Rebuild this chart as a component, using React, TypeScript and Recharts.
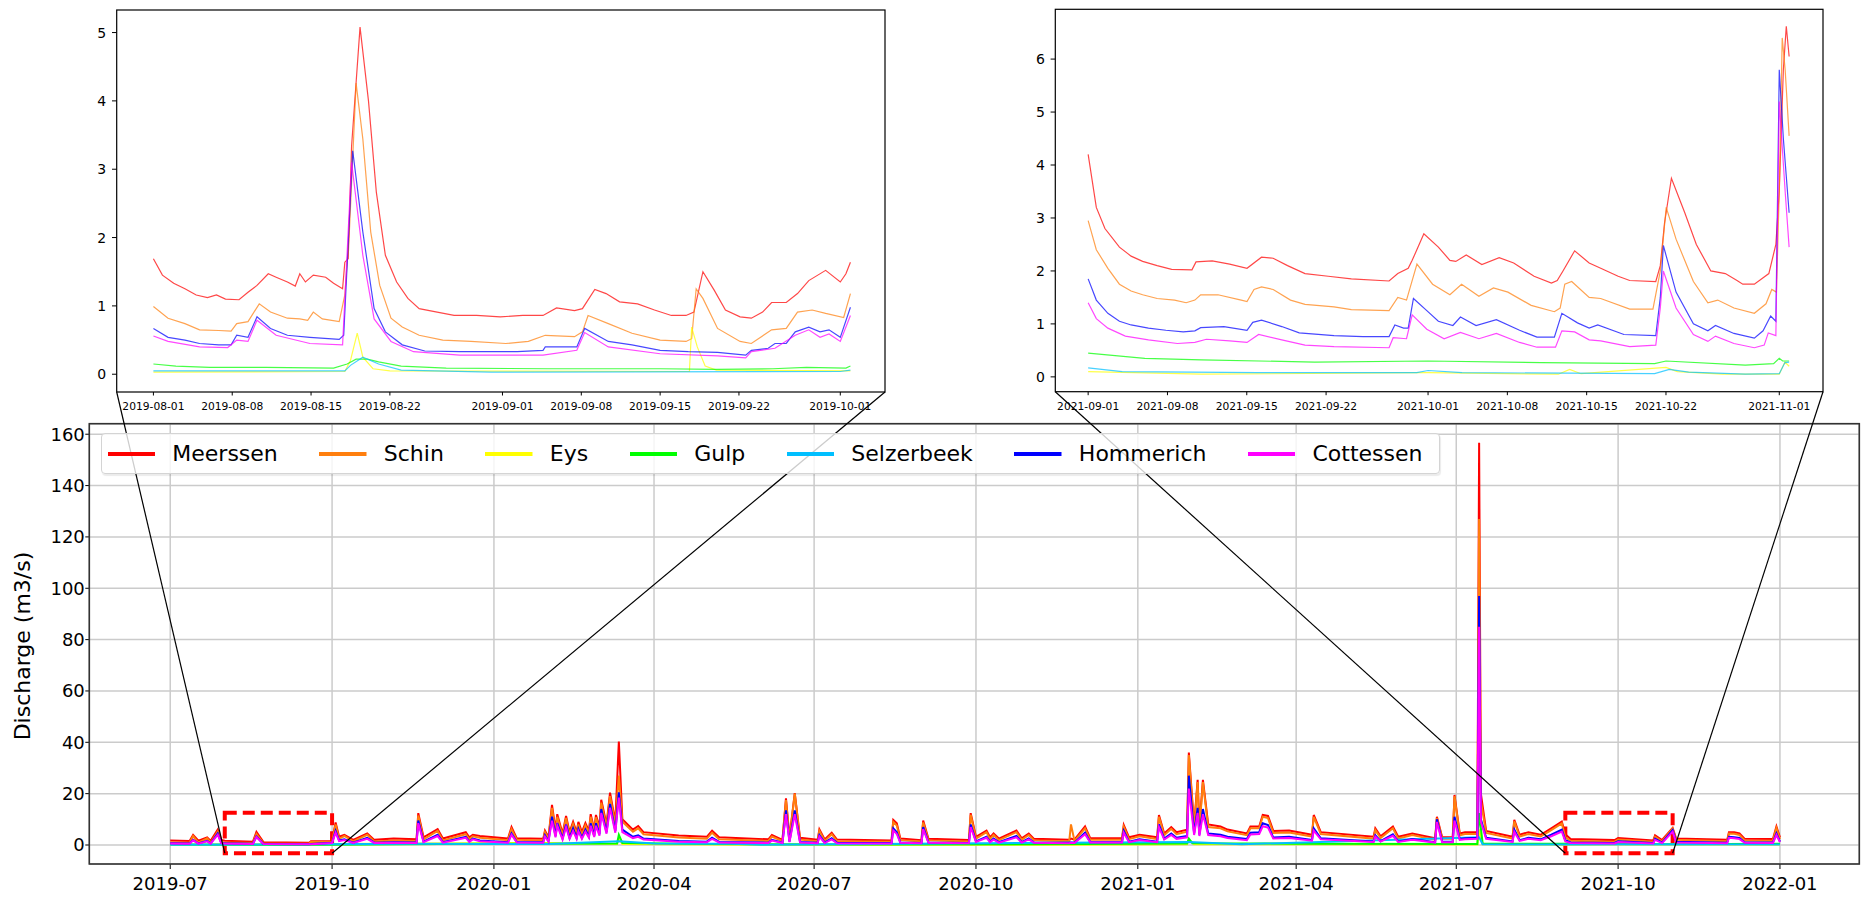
import { CartesianGrid, Line, LineChart, ReferenceArea, XAxis, YAxis } from "recharts";

const DAY = 86400000;
const FONT = "DejaVu Sans";
const ts = (s: string) => Date.parse(s + "T00:00:00Z");

const STATIONS = ["Meerssen", "Schin", "Eys", "Gulp", "Selzerbeek", "Hommerich", "Cottessen"];
const COLORS = ["#ff0000", "#ff7f0e", "#ffff00", "#00ff00", "#00bfff", "#0000ff", "#ff00ff"];

// ---- main chart (daily-ish samples) ----
const mainDates = [
  "2019-07-01", "2019-07-12", "2019-07-14", "2019-07-17", "2019-07-22", "2019-07-24", "2019-07-28", "2019-07-30", "2019-08-01", "2019-08-17",
  "2019-08-19", "2019-08-23", "2019-09-18", "2019-09-19", "2019-10-01", "2019-10-03", "2019-10-05", "2019-10-08", "2019-10-13", "2019-10-21",
  "2019-10-25", "2019-11-05", "2019-11-18", "2019-11-19", "2019-11-22", "2019-11-30", "2019-12-03", "2019-12-16", "2019-12-18", "2019-12-20",
  "2019-12-24", "2020-01-09", "2020-01-11", "2020-01-14", "2020-01-29", "2020-01-30", "2020-02-01", "2020-02-03", "2020-02-05", "2020-02-06",
  "2020-02-09", "2020-02-11", "2020-02-13", "2020-02-15", "2020-02-17", "2020-02-18", "2020-02-20", "2020-02-22", "2020-02-24", "2020-02-25",
  "2020-02-27", "2020-02-28", "2020-03-01", "2020-03-02", "2020-03-05", "2020-03-07", "2020-03-10", "2020-03-12", "2020-03-14", "2020-03-20",
  "2020-03-23", "2020-03-26", "2020-04-15", "2020-05-01", "2020-05-04", "2020-05-08", "2020-06-05", "2020-06-07", "2020-06-13", "2020-06-15",
  "2020-06-17", "2020-06-20", "2020-06-23", "2020-07-03", "2020-07-04", "2020-07-07", "2020-07-11", "2020-07-14", "2020-08-14", "2020-08-15",
  "2020-08-17", "2020-08-19", "2020-08-31", "2020-09-01", "2020-09-04", "2020-09-27", "2020-09-28", "2020-10-01", "2020-10-07", "2020-10-09",
  "2020-10-11", "2020-10-14", "2020-10-24", "2020-10-27", "2020-10-31", "2020-11-03", "2020-11-23", "2020-11-24", "2020-11-26", "2020-12-02",
  "2020-12-05", "2020-12-23", "2020-12-24", "2020-12-27", "2021-01-02", "2021-01-12", "2021-01-13", "2021-01-16", "2021-01-20", "2021-01-23",
  "2021-01-29", "2021-01-30", "2021-02-02", "2021-02-04", "2021-02-05", "2021-02-07", "2021-02-10", "2021-02-17", "2021-02-21", "2021-03-04",
  "2021-03-06", "2021-03-11", "2021-03-13", "2021-03-16", "2021-03-19", "2021-03-28", "2021-04-10", "2021-04-11", "2021-04-15", "2021-05-15",
  "2021-05-16", "2021-05-19", "2021-05-26", "2021-05-29", "2021-06-06", "2021-06-19", "2021-06-20", "2021-06-23", "2021-06-29", "2021-06-30",
  "2021-07-03", "2021-07-06", "2021-07-13", "2021-07-14", "2021-07-15", "2021-07-18", "2021-08-02", "2021-08-03", "2021-08-06", "2021-08-11",
  "2021-08-18", "2021-08-24", "2021-08-30", "2021-09-01", "2021-09-04", "2021-09-29", "2021-10-01", "2021-10-21", "2021-10-22", "2021-10-26", "2021-11-01", "2021-11-03",
  "2021-12-02", "2021-12-03", "2021-12-06", "2021-12-09", "2021-12-12", "2021-12-28", "2021-12-30", "2022-01-01",
];

const mainMeerssen = [
  1.8, 1.6, 3.9, 1.7, 3.0, 1.6, 6.0, 2.0, 1.7, 1.3,
  5.1, 1.1, 0.9, 1.5, 1.6, 8.8, 3.2, 4.0, 2.0, 4.5,
  2.0, 2.5, 2.2, 12.4, 3.0, 6.2, 2.5, 5.0, 3.0, 4.0,
  3.5, 2.5, 7.0, 2.6, 2.4, 5.6, 3.0, 15.6, 6.0, 12.0,
  4.5, 11.3, 5.0, 9.0, 5.0, 9.0, 5.0, 8.5, 5.5, 12.0,
  6.0, 11.7, 7.0, 17.6, 8.0, 20.4, 9.0, 40.3, 10.0, 6.0,
  7.4, 5.0, 3.7, 3.2, 5.6, 3.0, 2.2, 3.9, 2.0, 18.2,
  3.0, 20.2, 2.8, 2.0, 6.1, 2.2, 4.8, 2.1, 1.8, 9.8,
  8.5, 2.5, 1.9, 9.5, 2.4, 1.9, 12.4, 3.2, 5.6, 3.0,
  4.5, 2.5, 5.6, 2.6, 4.5, 2.4, 2.0, 2.5, 2.1, 7.2,
  2.6, 2.6, 7.8, 3.0, 4.0, 3.0, 11.7, 4.5, 7.0, 5.0,
  6.0, 36.0, 7.5, 25.4, 7.0, 25.4, 8.0, 7.2, 6.0, 4.5,
  7.2, 7.2, 11.7, 11.3, 5.5, 5.6, 4.0, 11.7, 5.0, 3.2,
  6.5, 3.4, 7.2, 3.2, 4.5, 2.6, 11.0, 3.0, 3.0, 19.5,
  4.5, 5.0, 5.0, 156.7, 20.0, 5.5, 3.2, 9.8, 4.0, 5.0,
  4.0, 6.5, 9.1, 4.2, 2.3, 1.9, 2.7, 1.8, 3.75, 1.95, 6.6, 2.5,
  2.0, 5.0, 5.0, 4.5, 2.4, 2.3, 7.2, 3.0,
];

const mainSchin = [
  1.0, 0.9, 3.5, 0.9, 2.6, 0.9, 5.2, 1.2, 1.0, 0.8,
  4.3, 0.6, 0.5, 1.25, 1.1, 8.0, 2.4, 3.5, 1.4, 4.0,
  1.4, 1.8, 1.6, 11.5, 2.2, 5.5, 1.8, 4.2, 2.2, 3.4,
  2.8, 1.9, 6.2, 2.0, 1.8, 5.0, 2.4, 14.5, 5.0, 11.0,
  3.6, 10.5, 4.0, 8.2, 4.0, 8.0, 4.0, 7.6, 4.5, 11.0,
  5.0, 10.8, 6.0, 16.5, 7.0, 19.0, 8.0, 27.0, 9.0, 5.2,
  6.5, 4.2, 2.9, 2.4, 4.8, 2.2, 1.6, 3.3, 1.5, 17.5,
  2.3, 20.0, 2.1, 1.5, 5.5, 1.6, 4.2, 1.5, 1.3, 9.0,
  7.6, 1.9, 1.4, 8.8, 1.8, 1.4, 11.8, 2.5, 5.0, 2.3,
  3.9, 1.9, 5.0, 2.0, 3.9, 1.8, 1.5, 8.0, 1.6, 6.5,
  2.0, 2.0, 7.0, 2.3, 3.4, 2.3, 11.0, 3.8, 6.3, 4.2,
  5.2, 35.0, 6.5, 24.5, 6.0, 24.5, 7.0, 6.5, 5.3, 3.8,
  6.5, 6.5, 11.0, 10.5, 4.7, 4.9, 3.3, 11.0, 4.3, 2.5,
  5.8, 2.7, 6.5, 2.5, 3.9, 2.0, 10.5, 2.4, 2.4, 19.0,
  3.8, 4.3, 4.3, 127.0, 17.0, 4.7, 2.5, 9.2, 3.3, 4.3,
  3.3, 5.8, 8.4, 2.95, 1.65, 1.3, 2.1, 1.28, 3.2, 1.45, 6.4, 2.0,
  1.5, 4.5, 4.4, 3.9, 1.8, 1.7, 6.6, 2.3,
];

const mainHommerich = [
  0.7, 0.6, 2.0, 0.6, 1.6, 0.6, 4.5, 0.8, 0.67, 0.5,
  3.3, 0.4, 0.32, 0.35, 0.9, 5.5, 1.8, 2.2, 0.9, 2.8,
  0.9, 1.1, 1.0, 9.5, 1.3, 4.0, 1.1, 3.2, 1.4, 2.5,
  1.8, 1.1, 4.5, 1.2, 1.1, 3.8, 1.5, 11.0, 3.5, 8.5,
  2.5, 8.0, 2.8, 6.5, 2.8, 6.2, 2.8, 6.0, 3.2, 8.5,
  3.6, 8.5, 4.2, 14.0, 5.0, 16.0, 5.5, 20.5, 6.0, 3.2,
  3.8, 2.5, 1.6, 1.3, 2.8, 1.2, 0.9, 2.0, 0.85, 13.5,
  1.3, 13.5, 1.2, 0.85, 3.8, 0.9, 2.6, 0.85, 0.75, 6.5,
  5.0, 1.0, 0.8, 7.0, 1.0, 0.8, 8.0, 1.4, 3.2, 1.3,
  2.5, 1.1, 3.5, 1.1, 2.6, 1.0, 0.85, 1.0, 0.9, 4.8,
  1.1, 1.1, 5.5, 1.3, 2.2, 1.3, 8.0, 2.5, 4.5, 2.8,
  3.5, 27.0, 4.5, 14.5, 4.0, 14.0, 4.5, 4.0, 3.2, 2.3,
  4.8, 5.0, 8.5, 7.8, 2.9, 3.2, 2.0, 6.5, 2.6, 1.4,
  3.8, 1.5, 4.2, 1.4, 2.3, 1.1, 10.0, 1.3, 1.3, 11.0,
  2.3, 2.6, 2.8, 97.0, 10.0, 2.8, 1.4, 6.0, 1.9, 2.8,
  2.2, 4.0, 6.0, 1.85, 1.0, 0.8, 1.45, 0.78, 2.48, 0.95, 5.8, 1.3,
  0.85, 3.2, 3.0, 2.7, 1.0, 0.95, 4.5, 1.3,
];

const mainCottessen = [
  0.6, 0.5, 1.8, 0.5, 1.4, 0.5, 4.0, 0.7, 0.56, 0.43,
  3.1, 0.35, 0.27, 0.3, 0.8, 4.8, 1.5, 1.9, 0.8, 2.4,
  0.8, 0.9, 0.8, 8.5, 1.1, 3.5, 0.9, 2.8, 1.2, 2.2,
  1.5, 0.9, 4.0, 1.0, 0.9, 3.3, 1.3, 9.5, 3.0, 7.5,
  2.1, 7.0, 2.4, 5.5, 2.4, 5.4, 2.4, 5.2, 2.8, 7.5,
  3.1, 7.5, 3.6, 12.5, 4.4, 14.5, 4.8, 18.5, 5.0, 2.7,
  3.2, 2.1, 1.3, 1.1, 2.4, 1.0, 0.8, 1.7, 0.75, 12.0,
  1.1, 12.0, 1.0, 0.7, 3.3, 0.75, 2.2, 0.7, 0.6, 5.7,
  4.3, 0.85, 0.65, 6.2, 0.85, 0.65, 7.0, 1.2, 2.8, 1.1,
  2.1, 0.9, 3.0, 0.95, 2.2, 0.85, 0.7, 0.85, 0.75, 4.2,
  0.95, 0.95, 4.8, 1.1, 1.9, 1.1, 7.0, 2.1, 3.9, 2.4,
  3.0, 22.0, 3.9, 12.5, 3.5, 12.0, 3.9, 3.4, 2.7, 1.9,
  4.1, 4.3, 7.3, 6.8, 2.5, 2.7, 1.7, 5.6, 2.2, 1.2,
  3.3, 1.3, 3.6, 1.2, 2.0, 0.95, 9.0, 1.1, 1.1, 9.5,
  2.0, 2.2, 2.4, 85.0, 9.0, 2.4, 1.2, 5.2, 1.6, 2.4,
  1.9, 3.4, 5.2, 1.4, 0.75, 0.6, 1.15, 0.6, 2.0, 0.75, 5.2, 1.0,
  0.7, 2.8, 2.6, 2.3, 0.85, 0.8, 3.9, 1.1,
];

// the small stations barely leave the baseline, fewer samples
const mainEys: [string, number][] = [
  ["2019-07-01", 0.05], ["2019-11-19", 0.6], ["2020-02-03", 0.8], ["2020-03-11", 0.4], ["2020-03-12", 2.5],
  ["2020-03-14", 0.4], ["2020-06-01", 0.08], ["2020-11-24", 0.1], ["2021-01-29", 0.3], ["2021-01-30", 2.0],
  ["2021-02-02", 0.3], ["2021-07-13", 0.2], ["2021-07-14", 6.0], ["2021-07-16", 0.3], ["2021-09-01", 0.1],
  ["2021-11-01", 0.25], ["2022-01-01", 0.1],
];
const mainGulp: [string, number][] = [
  ["2019-07-01", 0.15], ["2019-10-01", 0.12], ["2019-12-01", 0.35], ["2020-02-01", 0.5], ["2020-03-11", 0.6],
  ["2020-03-12", 4.0], ["2020-03-14", 0.8], ["2020-05-01", 0.4], ["2020-08-01", 0.2], ["2020-11-01", 0.25],
  ["2021-01-29", 0.6], ["2021-01-30", 2.5], ["2021-02-01", 0.7], ["2021-04-01", 0.5], ["2021-07-13", 0.4],
  ["2021-07-14", 12.4], ["2021-07-16", 0.6], ["2021-09-01", 0.45], ["2021-11-01", 0.3], ["2022-01-01", 0.45],
];
const mainSelzerbeek: [string, number][] = [
  ["2019-07-01", 0.06], ["2019-11-19", 0.5], ["2020-02-01", 0.4], ["2020-03-12", 1.5], ["2020-04-01", 0.6],
  ["2020-05-15", 0.5], ["2020-06-01", 0.1], ["2021-01-30", 1.2], ["2021-03-01", 0.3], ["2021-07-14", 3.0],
  ["2021-07-16", 0.3], ["2021-09-01", 0.17], ["2021-11-01", 0.28], ["2022-01-01", 0.2],
];

const mainTicks = ["2019-07", "2019-10", "2020-01", "2020-04", "2020-07", "2020-10", "2021-01", "2021-04", "2021-07", "2021-10", "2022-01"];
const mainYTicks = [0, 20, 40, 60, 80, 100, 120, 140, 160];

// ---- inset 1: Aug - Sep 2019, [day since start, value] ----
const inset1Start = "2019-08-01";
const inset1Ticks = ["2019-08-01", "2019-08-08", "2019-08-15", "2019-08-22", "2019-09-01", "2019-09-08", "2019-09-15", "2019-09-22", "2019-10-01"];
const inset1YTicks = [0, 1, 2, 3, 4, 5];
const in1Meerssen = [
  [0, 1.69], [0.8, 1.45], [1.8, 1.33], [2.8, 1.25], [3.8, 1.16], [4.8, 1.12], [5.6, 1.16], [6.4, 1.1], [7.6, 1.09], [8.4, 1.2],
  [9.2, 1.3], [10.2, 1.47], [10.9, 1.42], [11.9, 1.35], [12.6, 1.29], [13, 1.47], [13.5, 1.35], [14.2, 1.45], [15.3, 1.42], [16, 1.33],
  [16.8, 1.25], [17, 1.64], [17.3, 1.69], [17.6, 3.34], [18.35, 5.08], [19.1, 4.0], [19.8, 2.66], [20.6, 1.74], [21.6, 1.35], [22.6, 1.11],
  [23.6, 0.96], [25.2, 0.91], [26.7, 0.86], [28.7, 0.86], [30.8, 0.84], [32.8, 0.86], [34.6, 0.86], [35.8, 0.97], [37.4, 0.93], [38.1, 0.96],
  [39.2, 1.24], [40.2, 1.18], [41.4, 1.06], [43, 1.03], [44.5, 0.94], [46, 0.86], [47.3, 0.86], [48, 0.91], [48.8, 1.5], [49.8, 1.23],
  [50.8, 0.94], [52.1, 0.84], [53.1, 0.82], [54.1, 0.91], [54.9, 1.05], [56.2, 1.05], [57.2, 1.18], [58.2, 1.37], [59.7, 1.52], [61, 1.35],
  [61.5, 1.47], [61.9, 1.64],
];
const in1Schin = [
  [0, 0.99], [1.3, 0.82], [2.8, 0.74], [4.1, 0.65], [5.8, 0.64], [6.9, 0.63], [7.4, 0.74], [8.4, 0.77], [9.4, 1.03], [10.4, 0.91],
  [11.9, 0.82], [13, 0.81], [13.7, 0.79], [14.2, 0.91], [15, 0.81], [16.5, 0.77], [17, 1.16], [17.4, 2.08], [18, 4.26], [18.6, 3.44],
  [19.3, 2.08], [20.1, 1.3], [21.1, 0.82], [22.1, 0.69], [23.6, 0.57], [25.7, 0.5], [28.2, 0.48], [31.3, 0.45], [33.3, 0.48], [34.8, 0.57],
  [37.4, 0.55], [38.1, 0.62], [38.6, 0.86], [40.4, 0.74], [42.5, 0.6], [45, 0.5], [47.3, 0.48], [47.8, 0.52], [48.2, 1.25], [48.8, 1.11],
  [50.1, 0.67], [52.1, 0.48], [53.1, 0.45], [54.9, 0.65], [56.2, 0.67], [57.2, 0.91], [58.5, 0.94], [59.7, 0.89], [61.3, 0.83], [61.9, 1.18],
];
const in1Eys = [
  [0, 0.03], [17, 0.04], [17.5, 0.2], [18.1, 0.6], [18.6, 0.25], [19.5, 0.08], [21, 0.05], [47.6, 0.04], [47.8, 0.69], [48.3, 0.4],
  [49, 0.12], [50, 0.06], [61.9, 0.05],
];
const in1Gulp = [
  [0, 0.15], [2, 0.12], [5, 0.1], [10, 0.1], [16, 0.09], [17.2, 0.15], [18, 0.22], [19, 0.22], [20, 0.18], [22, 0.12],
  [26, 0.09], [35, 0.08], [45, 0.08], [50, 0.07], [55, 0.08], [58, 0.1], [61.5, 0.09], [61.9, 0.12],
];
const in1Selzerbeek = [
  [0, 0.05], [10, 0.05], [17, 0.05], [17.5, 0.13], [18.6, 0.25], [20, 0.15], [22, 0.06], [30, 0.03], [61, 0.04], [61.9, 0.06],
];
const in1Hommerich = [
  [0, 0.67], [1.3, 0.54], [2.8, 0.5], [4.1, 0.45], [5.8, 0.43], [6.9, 0.43], [7.4, 0.57], [8.4, 0.54], [9.2, 0.84], [10.4, 0.67],
  [11.9, 0.57], [13.9, 0.54], [16.5, 0.51], [16.9, 0.57], [17.7, 3.27], [18.6, 2.08], [19.6, 0.96], [20.6, 0.62], [22.1, 0.43], [24.1, 0.34],
  [27.2, 0.33], [32.3, 0.33], [34.6, 0.35], [34.8, 0.4], [37.6, 0.4], [38.3, 0.67], [40.4, 0.48], [42.5, 0.43], [45, 0.35], [47.5, 0.33],
  [50.1, 0.32], [52.6, 0.28], [53.1, 0.35], [54.6, 0.38], [55.2, 0.45], [56.2, 0.45], [57, 0.62], [58.2, 0.69], [59.2, 0.62], [60, 0.65],
  [61, 0.54], [61.9, 0.98],
];
const in1Cottessen = [
  [0, 0.56], [1.3, 0.48], [4.1, 0.4], [6.6, 0.39], [7.4, 0.5], [8.4, 0.48], [9.2, 0.79], [10.9, 0.57], [13.9, 0.45], [16.8, 0.43],
  [17.6, 3.1], [18.6, 1.74], [19.6, 0.81], [21.1, 0.48], [23.1, 0.33], [27.2, 0.28], [34.6, 0.28], [37.6, 0.35], [38.3, 0.61], [40.4, 0.4],
  [45, 0.3], [50.1, 0.27], [52.6, 0.24], [53.1, 0.33], [55.2, 0.38], [57, 0.57], [58.2, 0.65], [59.2, 0.54], [60, 0.59], [61, 0.48],
  [61.9, 0.86],
];

// ---- inset 2: Sep - Oct 2021 ----
const inset2Start = "2021-09-01";
const inset2Ticks = ["2021-09-01", "2021-09-08", "2021-09-15", "2021-09-22", "2021-10-01", "2021-10-08", "2021-10-15", "2021-10-22", "2021-11-01"];
const inset2YTicks = [0, 1, 2, 3, 4, 5, 6];
const in2Meerssen = [
  [0, 4.2], [0.72, 3.2], [1.48, 2.8], [2.76, 2.45], [3.79, 2.28], [4.81, 2.18], [6.09, 2.1], [7.37, 2.03], [9.16, 2.02], [9.52, 2.17],
  [10.95, 2.19], [12.49, 2.13], [14.02, 2.05], [15.3, 2.26], [16.33, 2.24], [17.6, 2.1], [19.14, 1.95], [21.19, 1.9], [23.23, 1.85], [26.56, 1.81],
  [27.33, 1.95], [28.25, 2.05], [28.6, 2.2], [29.63, 2.7], [30.91, 2.45], [31.93, 2.2], [32.45, 2.18], [33.37, 2.3], [34.75, 2.12], [36.28, 2.25],
  [37.56, 2.15], [39.36, 1.9], [40.89, 1.77], [41.4, 1.82], [41.91, 2.0], [42.94, 2.38], [44.22, 2.15], [45.24, 2.05], [46.78, 1.9], [47.8, 1.82],
  [50.1, 1.8], [50.5, 2.1], [50.87, 2.9], [51.48, 3.75], [52.66, 3.1], [53.68, 2.5], [54.96, 2.0], [56.24, 1.95], [57.27, 1.82], [57.78, 1.75],
  [58.8, 1.75], [60.08, 1.95], [60.7, 2.5], [61.0, 3.5], [61.36, 5.8], [61.62, 6.62], [61.87, 6.05],
];
const in2Schin = [
  [0, 2.95], [0.72, 2.4], [1.74, 2.05], [2.76, 1.75], [3.79, 1.62], [4.81, 1.55], [6.09, 1.48], [7.63, 1.45], [8.65, 1.4], [9.42, 1.45],
  [9.93, 1.55], [11.46, 1.55], [13.51, 1.45], [14.02, 1.42], [14.64, 1.65], [15.3, 1.7], [16.33, 1.65], [17.86, 1.45], [19.14, 1.37], [21.7, 1.32],
  [23.23, 1.27], [26.56, 1.25], [27.33, 1.5], [28.1, 1.45], [29.02, 2.13], [30.4, 1.75], [31.93, 1.55], [32.96, 1.75], [34.49, 1.52], [35.77, 1.68],
  [37.05, 1.6], [39.1, 1.35], [41.15, 1.23], [41.66, 1.3], [42.07, 1.75], [42.68, 1.8], [44.22, 1.5], [45.24, 1.48], [47.8, 1.28], [49.85, 1.28],
  [50.5, 2.0], [51.02, 3.2], [51.89, 2.6], [53.42, 1.8], [54.7, 1.4], [55.57, 1.45], [57, 1.3], [58.8, 1.2], [59.83, 1.38], [60.34, 1.65],
  [60.75, 1.6], [61, 3.5], [61.26, 6.4], [61.52, 5.8], [61.87, 4.55],
];
const in2Eys = [
  [0, 0.1], [10, 0.05], [30, 0.08], [41.5, 0.05], [42.5, 0.14], [43.5, 0.06], [51, 0.18], [52, 0.1], [56, 0.05], [61, 0.05],
  [61.5, 0.28], [61.87, 0.2],
];
const in2Gulp = [
  [0, 0.45], [5, 0.35], [10, 0.32], [20, 0.28], [30, 0.3], [40, 0.27], [50, 0.25], [51, 0.3], [58, 0.22], [60.5, 0.25],
  [61, 0.35], [61.3, 0.3], [61.87, 0.3],
];
const in2Selzerbeek = [
  [0, 0.17], [3, 0.1], [15, 0.08], [29, 0.08], [30, 0.12], [33, 0.08], [50, 0.06], [51.3, 0.14], [53, 0.09], [58, 0.05],
  [61, 0.06], [61.5, 0.27], [61.87, 0.28],
];
const in2Hommerich = [
  [0, 1.85], [0.72, 1.45], [1.74, 1.2], [2.76, 1.05], [3.79, 0.98], [5.32, 0.92], [6.86, 0.88], [8.39, 0.85], [9.42, 0.87], [9.93, 0.93],
  [11.98, 0.95], [14.02, 0.88], [14.53, 1.03], [15.3, 1.07], [17.09, 0.95], [18.63, 0.83], [21.7, 0.78], [24.26, 0.76], [26.56, 0.76], [27.07, 0.98],
  [27.84, 0.92], [28.25, 0.92], [28.71, 1.48], [29.89, 1.25], [30.91, 1.05], [32.19, 0.97], [32.86, 1.13], [34.24, 0.97], [36.03, 1.08], [38.08, 0.88],
  [39.61, 0.75], [41.15, 0.75], [41.81, 1.2], [43.19, 1.02], [44.22, 0.92], [44.98, 0.98], [47.29, 0.8], [50.1, 0.78], [50.5, 1.5], [50.77, 2.48],
  [51.89, 1.6], [53.42, 1.0], [54.7, 0.87], [55.37, 0.97], [57, 0.82], [58.8, 0.73], [59.57, 0.87], [60.24, 1.15], [60.7, 1.05], [61, 5.8],
  [61.36, 4.5], [61.87, 3.1],
];
const in2Cottessen = [
  [0, 1.4], [0.72, 1.1], [1.74, 0.92], [3.28, 0.77], [5.32, 0.7], [7.88, 0.63], [9.42, 0.65], [10.44, 0.71], [12.49, 0.68], [14.02, 0.65],
  [15.05, 0.8], [17.09, 0.7], [19.14, 0.6], [21.7, 0.57], [26.56, 0.55], [26.92, 0.74], [28.1, 0.72], [28.6, 1.17], [29.89, 0.9], [31.42, 0.72],
  [32.86, 0.84], [34.49, 0.72], [36.03, 0.82], [38.08, 0.65], [39.61, 0.56], [41.25, 0.56], [41.81, 0.87], [42.94, 0.85], [44.22, 0.7], [45.24, 0.68],
  [47.8, 0.57], [50.1, 0.6], [50.5, 1.3], [50.77, 2.0], [51.89, 1.3], [53.42, 0.8], [54.7, 0.67], [55.37, 0.77], [57, 0.63], [58.8, 0.55],
  [59.67, 0.6], [60.03, 0.83], [60.7, 0.78], [61, 5.2], [61.52, 3.5], [61.87, 2.45],
];

// ---- layout ----
const MAIN = { left: 89.3, top: 423.7, right: 1859.3, bottom: 864 };
const MAIN_X: [number, number] = [ts("2019-07-01") - 46 * DAY, ts("2022-01-01") + 45.1 * DAY];
const MAIN_Y: [number, number] = [-7.4, 164.1];
const IN1 = { left: 116.7, top: 10, right: 885, bottom: 392 };
const IN1_X: [number, number] = [ts("2019-08-01") - 3.26 * DAY, ts("2019-10-01") + 3.97 * DAY];
const IN1_Y: [number, number] = [-0.26, 5.33];
const IN2 = { left: 1055.3, top: 9.3, right: 1823, bottom: 391.7 };
const IN2_X: [number, number] = [ts("2021-09-01") - 2.9 * DAY, ts("2021-11-01") + 3.86 * DAY];
const IN2_Y: [number, number] = [-0.28, 6.94];
const ZOOM_Y: [number, number] = [-3.2, 12.6];

const mainPx = (t: number) => MAIN.left + ((t - MAIN_X[0]) / (MAIN_X[1] - MAIN_X[0])) * (MAIN.right - MAIN.left);
const mainPy = (v: number) => MAIN.top + ((MAIN_Y[1] - v) / (MAIN_Y[1] - MAIN_Y[0])) * (MAIN.bottom - MAIN.top);

const pad2 = (n: number) => String(n).padStart(2, "0");
const fmtMonth = (t: number) => {
  const d = new Date(t);
  return `${d.getUTCFullYear()}-${pad2(d.getUTCMonth() + 1)}`;
};
const fmtDay = (t: number) => `${fmtMonth(t)}-${pad2(new Date(t).getUTCDate())}`;

const fromDates = (dates: string[], vals: number[]) => dates.map((d, i) => ({ t: ts(d), v: vals[i] }));
const fromPairs = (pairs: [string, number][]) => pairs.map(([d, v]) => ({ t: ts(d), v }));
const fromDays = (start: string, pairs: number[][]) => pairs.map(([d, v]) => ({ t: ts(start) + d * DAY, v }));

const mainSeries = [
  fromDates(mainDates, mainMeerssen),
  fromDates(mainDates, mainSchin),
  fromPairs(mainEys),
  fromPairs(mainGulp),
  fromPairs(mainSelzerbeek),
  fromDates(mainDates, mainHommerich),
  fromDates(mainDates, mainCottessen),
];
const inset1Series = [in1Meerssen, in1Schin, in1Eys, in1Gulp, in1Selzerbeek, in1Hommerich, in1Cottessen].map((p) => fromDays(inset1Start, p));
const inset2Series = [in2Meerssen, in2Schin, in2Eys, in2Gulp, in2Selzerbeek, in2Hommerich, in2Cottessen].map((p) => fromDays(inset2Start, p));

function Inset({ series, box, x, y, xTicks, yTicks, offsetLeft, width }: any) {
  return (
    <div style={{ position: "absolute", left: offsetLeft, top: 0 }}>
      <LineChart width={width} height={420} margin={{ top: box.top, right: offsetLeft + width - box.right, bottom: 0, left: 0 }}>
        <XAxis
          type="number"
          dataKey="t"
          domain={x}
          ticks={xTicks.map(ts)}
          tickFormatter={fmtDay}
          allowDataOverflow
          interval={0}
          height={420 - box.bottom}
          axisLine={false}
          tickSize={3.5}
          tickMargin={6.8}
          tickLine={{ stroke: "#000" }}
          tick={{ fontSize: 10.7, fill: "#000", fontFamily: FONT }}
        />
        <YAxis
          type="number"
          domain={y}
          ticks={yTicks}
          allowDataOverflow
          width={box.left - offsetLeft}
          axisLine={false}
          tickSize={4.7}
          tickMargin={5.8}
          tickLine={{ stroke: "#000" }}
          tick={{ fontSize: 14, fill: "#000", fontFamily: FONT }}
        />
        {series.map((d: any, i: number) => (
          <Line
            key={STATIONS[i]}
            data={d}
            dataKey="v"
            name={STATIONS[i]}
            type="linear"
            stroke={COLORS[i]}
            strokeWidth={1.2}
            strokeOpacity={0.72}
            dot={false}
            isAnimationActive={false}
          />
        ))}
      </LineChart>
    </div>
  );
}

export default function App() {
  const zoomAreas = [
    [inset1Ticks[0], inset1Ticks[inset1Ticks.length - 1]],
    [inset2Ticks[0], inset2Ticks[inset2Ticks.length - 1]],
  ];
  const connectors = [
    { from: [IN1.left, IN1.bottom], to: [mainPx(ts(zoomAreas[0][0])), mainPy(ZOOM_Y[0])] },
    { from: [IN1.right, IN1.bottom], to: [mainPx(ts(zoomAreas[0][1])), mainPy(ZOOM_Y[0])] },
    { from: [IN2.left, IN2.bottom], to: [mainPx(ts(zoomAreas[1][0])), mainPy(ZOOM_Y[0])] },
    { from: [IN2.right, IN2.bottom], to: [mainPx(ts(zoomAreas[1][1])), mainPy(ZOOM_Y[0])] },
  ];

  return (
    <div style={{ position: "absolute", left: 0, top: 0, width: 1865, height: 905, background: "#fff", overflow: "hidden", fontFamily: FONT }}>
      <div style={{ position: "absolute", left: 0, top: 0 }}>
        <LineChart width={1865} height={905} margin={{ top: MAIN.top, right: 1865 - MAIN.right, bottom: 0, left: 0 }}>
          <CartesianGrid stroke="#cbcbcb" strokeWidth={1.5} />
          <XAxis
            type="number"
            dataKey="t"
            domain={MAIN_X}
            ticks={mainTicks.map((m) => ts(m + "-01"))}
            tickFormatter={fmtMonth}
            allowDataOverflow
            interval={0}
            height={905 - MAIN.bottom}
            axisLine={false}
            tickSize={5}
            tickMargin={8}
            tickLine={{ stroke: "#000" }}
            tick={{ fontSize: 18, fill: "#000", fontFamily: FONT }}
          />
          <YAxis
            type="number"
            domain={MAIN_Y}
            ticks={mainYTicks}
            allowDataOverflow
            width={MAIN.left}
            axisLine={false}
            tickSize={4}
            tickMargin={0.5}
            tickLine={{ stroke: "#000" }}
            tick={{ fontSize: 18, fill: "#000", fontFamily: FONT }}
          />
          {mainSeries.map((d, i) => (
            <Line
              key={STATIONS[i]}
              data={d}
              dataKey="v"
              name={STATIONS[i]}
              type="linear"
              stroke={COLORS[i]}
              strokeWidth={2}
              dot={false}
              isAnimationActive={false}
            />
          ))}
          {zoomAreas.map(([a, b]) => (
            <ReferenceArea
              key={a}
              x1={ts(a)}
              x2={ts(b)}
              y1={ZOOM_Y[0]}
              y2={ZOOM_Y[1]}
              fill="none"
              stroke="#ff0000"
              strokeWidth={4}
              strokeDasharray="12 6"
              ifOverflow="visible"
            />
          ))}
        </LineChart>
      </div>

      <Inset series={inset1Series} box={IN1} x={IN1_X} y={IN1_Y} xTicks={inset1Ticks} yTicks={inset1YTicks} offsetLeft={0} width={900} />
      <Inset series={inset2Series} box={IN2} x={IN2_X} y={IN2_Y} xTicks={inset2Ticks} yTicks={inset2YTicks} offsetLeft={960} width={905} />

      <svg width={1865} height={905} style={{ position: "absolute", left: 0, top: 0, pointerEvents: "none" }}>
        <rect x={MAIN.left} y={MAIN.top} width={MAIN.right - MAIN.left} height={MAIN.bottom - MAIN.top} fill="none" stroke="#333" strokeWidth={1.6} />
        <rect x={IN1.left} y={IN1.top} width={IN1.right - IN1.left} height={IN1.bottom - IN1.top} fill="none" stroke="#000" strokeWidth={1.2} />
        <rect x={IN2.left} y={IN2.top} width={IN2.right - IN2.left} height={IN2.bottom - IN2.top} fill="none" stroke="#000" strokeWidth={1.2} />
        {connectors.map((c, i) => (
          <line key={i} x1={c.from[0]} y1={c.from[1]} x2={c.to[0]} y2={c.to[1]} stroke="#000" strokeWidth={1.2} />
        ))}
        <text x={22} y={646} transform="rotate(-90 22 646)" textAnchor="middle" dominantBaseline="central" fontSize={22} fontFamily={FONT} fill="#000">
          Discharge (m3/s)
        </text>
      </svg>

      <div
        style={{
          position: "absolute",
          left: 101.3,
          top: 433.3,
          width: 1338.7,
          height: 40.7,
          boxSizing: "border-box",
          border: "1px solid #d4d4d4",
          borderRadius: 4,
          background: "rgba(255,255,255,0.8)",
          boxShadow: "1px 2px 1px rgba(0,0,0,0.08)",
          display: "flex",
          alignItems: "center",
          paddingLeft: 5.5,
          gap: 41.5,
        }}
      >
        {STATIONS.map((name, i) => (
          <div key={name} style={{ display: "flex", alignItems: "center" }}>
            <svg width={47.5} height={6}>
              <line x1={0} y1={3} x2={47.5} y2={3} stroke={COLORS[i]} strokeWidth={4} />
            </svg>
            <span style={{ marginLeft: 17, fontSize: 22, lineHeight: "22px", color: "#000" }}>{name}</span>
          </div>
        ))}
      </div>
    </div>
  );
}
